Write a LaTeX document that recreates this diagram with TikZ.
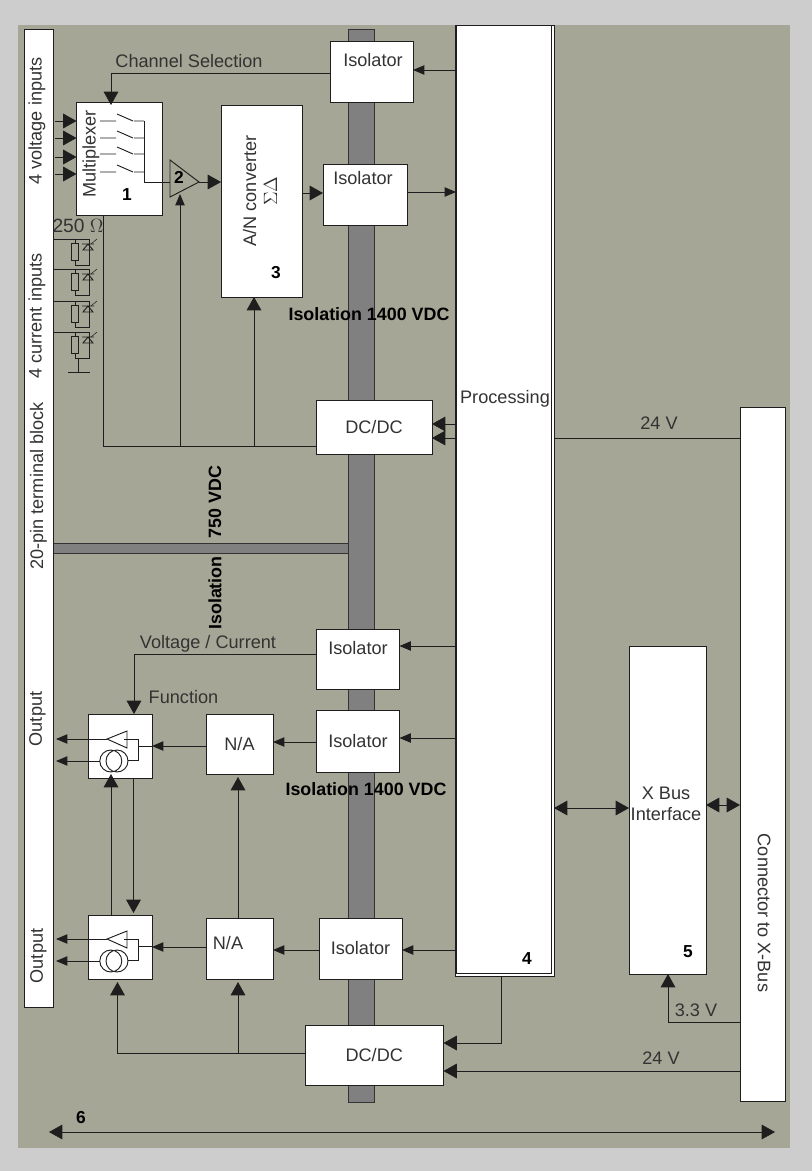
\documentclass[tikz,border=0pt]{standalone}
\usepackage{fontspec}
\setmainfont{Liberation Sans}
\usetikzlibrary{arrows.meta, calc}
\definecolor{charcoal}{RGB}{30, 30, 30}
\definecolor{panel}{RGB}{166, 166, 150}
\definecolor{page}{RGB}{205, 205, 205}
\definecolor{barfill}{RGB}{128, 128, 128}
\tikzset{boxsize/.style 2 args={minimum width=#1*.75pt, minimum height=#2*.75pt}}
\begin{document}
\begin{tikzpicture}[
    x=.75pt, y=-.75pt,
    line width=.7pt,
    box/.style={draw=charcoal, fill=white, inner sep=0pt, outer sep=0pt, align=center, text=black!80, font=\fontsize{13.6}{15.8}\selectfont},
    isobar/.style={draw=black!80, fill=barfill, inner sep=0pt, outer sep=0pt},
    txt/.style={inner sep=0pt, align=center, text=black!80, font=\fontsize{13.6}{15.8}\selectfont},
    isotxt/.style={inner sep=0pt, text=black, font=\fontsize{13.4}{16}\selectfont\bfseries},
    num/.style={inner sep=0pt, text=black, font=\fontsize{13}{15}\selectfont\bfseries},
    wire/.style={draw=charcoal},
    arrow/.style={draw=charcoal, -{Triangle[length=8.5pt, width=7pt]}},
    bigarrow/.style={draw=charcoal, -{Triangle[length=10pt, width=11pt]}},
    bothways/.style={draw=charcoal, {Triangle[length=10pt, width=11pt]}-{Triangle[length=10pt, width=11pt]}}
  ]
  \useasboundingbox (0,0) rectangle (812,1171);
  \fill[page] (0,0) rectangle (812,1171);
  \fill[panel] (18,25) rectangle (790,1148);

  \node[isobar, boxsize={295}{10}] (barh) at (200.5,548) {};
  \node[isobar, boxsize={26}{1073}] (barv) at (361,565.5) {};

  \node[box, boxsize={28.5}{978}] (terminal) at (38.75,518) {};
  \node[txt, rotate=90] (voltin) at (37,121) {4 voltage inputs};
  \node[txt, rotate=90] (currin) at (37,316) {4 current inputs};
  \node[txt, rotate=90] (block) at (38.5,486) {20-pin terminal block};
  \node[txt, rotate=90] (outa) at (37.5,719) {Output};
  \node[txt, rotate=90] (outb) at (38.5,956) {Output};

  \node[box, boxsize={85.5}{112.5}] (mux) at (119.25,158.75) {};
  \node[txt, rotate=90] (muxtxt) at (91,154) {Multiplexer};
  \node[num] (numa) at (127,195) {1};
  \node[box, boxsize={81}{192}] (adc) at (261.5,201) {};
  \node[txt, rotate=90] (adctxt) at (260,191) {A/N converter\\$\Sigma\Delta$};
  \node[num] (numc) at (276,273) {3};

  \node[box, boxsize={83}{61}] (isoa) at (371.5,71.5) {};
  \node[txt] (isoatxt) at (373,60) {Isolator};
  \node[box, boxsize={84}{61}] (isob) at (365,194.5) {};
  \node[txt] (isobtxt) at (363,178) {Isolator};
  \node[box, boxsize={116}{54}] (dcdca) at (374,427) {DC/DC};
  \node[box, boxsize={83}{60}] (isoc) at (358,659) {};
  \node[txt] (isoctxt) at (358,648) {Isolator};
  \node[box, boxsize={83}{62}] (isod) at (358,741) {Isolator};
  \node[box, boxsize={83}{61}] (isoe) at (360.5,948.5) {Isolator};
  \node[box, boxsize={138.5}{60}] (dcdcb) at (374.25,1055) {DC/DC};

  \node[box, boxsize={67}{60}] (naa) at (239.5,744) {N/A};
  \node[box, boxsize={67}{61}] (nab) at (239.5,948.5) {};
  \node[txt] (nabtxt) at (228,943) {N/A};
  \node[box, boxsize={64}{64}] (funa) at (120,746) {};
  \node[box, boxsize={64}{64}] (funb) at (120,947) {};

  \node[box, boxsize={99}{951}] (procback) at (504.5,500.5) {};
  \node[box, boxsize={95}{948}] (proc) at (503.5,499) {};
  \node[txt] (proctxt) at (505,399) {Processing};
  \node[num] (numd) at (527,959) {4};
  \node[box, boxsize={77}{328}] (xbus) at (667.5,810) {};
  \node[txt] (xbustxt) at (666,803.5) {X Bus\\Interface};
  \node[num] (nume) at (688,952) {5};
  \node[box, boxsize={45}{694}] (conn) at (762.5,754) {};
  \node[txt, rotate=-90] (conntxt) at (764,913) {Connector to X-Bus};

  % switches and inputs of the multiplexer
  \foreach \y/\n/\s in {121/a/121, 138/b/138, 157/c/154, 174/d/172} {
    \coordinate (in\n) at (55,\y);
    \draw[bigarrow] (in\n) -- (mux.west |- in\n);
    \draw[wire] (100,\s) -- (116,\s) (117,\s-7) -- (133,\s) (134,\s) -- (144,\s);
  }
  \coordinate (ampin) at (170,182);
  \coordinate (ampout) at (199,182);
  \draw[wire, fill=panel] (170,160) -- (ampout) -- (170,197) -- cycle;
  \node[num] (numb) at (179,177) {2};
  \draw[wire] (144,121) -- (144,182) -- (ampin);
  \draw[bigarrow] (ampout) -- (adc.west |- ampout);
  \draw[bigarrow] (adc.east |- 0,193) -- (isob.west |- 0,193);
  \draw[arrow] (isob.east |- 0,192) -- (proc.west |- 0,192);
  \draw[arrow] (proc.west |- 0,70) -- (isoa.east |- 0,70);
  \draw[bigarrow] (isoa.west |- 0,73) -| (111,105);
  \node[txt] (chantxt) at (189,61) {Channel Selection};

  % current inputs
  \node[txt, font=\fontsize{14.4}{16}\selectfont] (ohm) at (78,226) {250 $\Omega$};
  \draw[wire] (mux.south -| 103.5,0) -- (103.5,446) -- (dcdca.west |- 0,446);
  \draw[arrow] (180,446) -- (180,194);
  \draw[bigarrow] (254,446) -- (adc.south -| 254,0);
  \foreach \y in {239,269,301,332} {
    \draw[wire] (terminal.east |- 0,\y) -- (89,\y) -- (89,\y+26) -- (75,\y+26) -- (75,\y+21);
    \draw[wire, fill=panel] (71.5,\y+4) rectangle (78,\y+21);
    \draw[wire] (75,\y) -- (75,\y+4);
    \draw[wire] (83,\y+11) -- (93,\y+11) -- (88,\y+5) -- cycle (82,\y+5) -- (94,\y+5);
    \draw[wire, line width=.4pt] (91,\y+5) -- (97,\y);
  }
  \draw[wire] (78,358) -- (78,372) (68,372) -- (90,372);

  % supply of the isolated side
  \draw[bigarrow] (proc.west |- 0,424) -- (dcdca.east |- 0,424);
  \draw[bigarrow] (proc.west |- 0,438) -- (dcdca.east |- 0,438);
  \draw[wire] (procback.east |- 0,438) -- (conn.west |- 0,438);
  \node[txt] (vdca) at (659,423) {24 V};
  \node[isotxt] (isolab) at (369,314) {Isolation 1400 VDC};
  \node[isotxt, rotate=90] (isolc) at (215,502) {750 VDC};
  \node[isotxt, rotate=90] (isold) at (215,593) {Isolation};

  % output channels
  \draw[arrow] (proc.west |- 0,646) -- (isoc.east |- 0,646);
  \draw[arrow] (proc.west |- 0,738) -- (isod.east |- 0,738);
  \draw[arrow] (proc.west |- 0,950) -- (isoe.east |- 0,950);
  \draw[bigarrow] (isoc.west |- 0,654) -| (funa.north -| 134,0);
  \node[txt] (voltcurr) at (208,644) {Voltage / Current};
  \node[txt] (functxt) at (183.5,697) {Function};
  \draw[arrow] (isod.west |- 0,742) -- (naa.east |- 0,742);
  \draw[arrow] (isoe.west |- 0,950) -- (nab.east |- 0,950);
  \draw[arrow] (naa.west |- 0,746) -- (funa.east |- 0,746);
  \draw[arrow] (nab.west |- 0,947) -- (funb.east |- 0,947);
  \foreach \o in {0,200} {
    \coordinate (vout) at (56,739+\o);
    \coordinate (iout) at (56,761+\o);
    \draw[wire] (107,739+\o) -- (127,731+\o) -- (127,748+\o) -- cycle;
    \draw[wire] (110.8,761+\o) circle[radius=8.25pt] (117,761+\o) circle[radius=8.25pt];
    \draw[wire] (124,739+\o) -- (138,739+\o) -- (138,760+\o) -- (128,760+\o) (138,746+\o) -- (152,746+\o);
    \draw[arrow] (107,739+\o) -- (vout);
    \draw[arrow] (100,761+\o) -- (iout);
  }
  \draw[bigarrow] (funb.north -| 111,0) -- (111,774);
  \draw[bigarrow] (funa.south -| 133.5,0) -- (133.5,913);
  \draw[bigarrow] (nab.north -| 238,0) -- (238,777);
  \draw[wire] (dcdcb.west |- 0,1053) -- (238,1053);
  \draw[bigarrow] (238,1053) -- (238,982);
  \draw[bigarrow] (238,1053) -- (117.5,1053) -- (117.5,982);
  \node[isotxt] (isole) at (366,789) {Isolation 1400 VDC};

  % right hand side
  \draw[bigarrow] (procback.south -| 501,0) |- (dcdcb.east |- 0,1043);
  \draw[bigarrow] (conn.west |- 0,1071) -- (dcdcb.east |- 0,1071);
  \node[txt] (vdcb) at (661,1058) {24 V};
  \draw[bigarrow] (conn.west |- 0,1022) -| (xbus.south -| 668,0);
  \node[txt] (vdcc) at (696,1010) {3.3 V};
  \draw[bothways] (procback.east |- 0,808) -- (xbus.west |- 0,808);
  \draw[bothways] (xbus.east |- 0,805) -- (conn.west |- 0,805);

  \coordinate (spanl) at (49,1132);
  \coordinate (spanr) at (775,1132);
  \draw[bothways] (spanl) -- (spanr);
  \node[num] (numf) at (81,1118) {6};
\end{tikzpicture}
\end{document}
